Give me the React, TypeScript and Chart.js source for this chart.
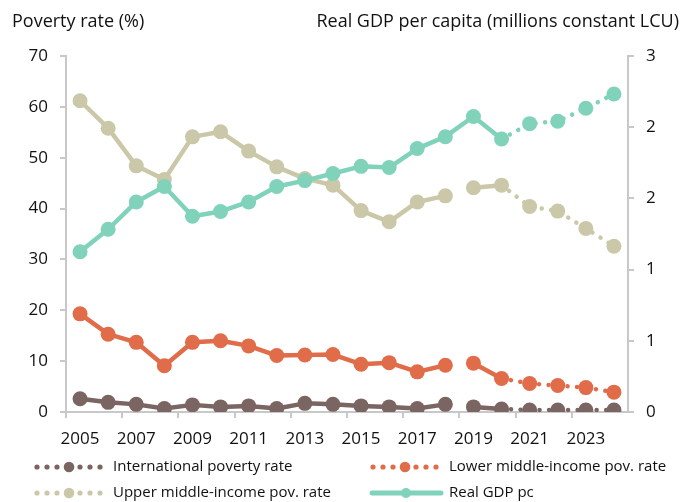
import React, { useEffect, useRef } from "react";
import { Chart, registerables } from "chart.js";

Chart.register(...registerables);

const years = ["2005","2006","2007","2008","2009","2010","2011","2012","2013","2014","2015","2016","2017","2018","2019","2020","2021","2022","2023","2024"];
const intlPoverty = [2.6,1.9,1.5,0.7,1.4,1.0,1.2,0.7,1.7,1.5,1.2,1.0,0.7,1.5,1.0,0.6,0.4,0.4,0.4,0.4];
const lowerMiddlePoverty = [19.3,15.3,13.7,9.1,13.7,14.0,13.0,11.1,11.2,11.3,9.4,9.7,7.9,9.2,9.6,6.6,5.6,5.2,4.8,3.9];
const upperMiddlePoverty = [61.2,55.8,48.4,45.7,54.1,55.1,51.3,48.2,45.9,44.6,39.6,37.4,41.3,42.5,44.1,44.6,40.4,39.5,36.1,32.6];
const realGdpPc = [1.35,1.54,1.77,1.90,1.65,1.69,1.77,1.90,1.95,2.01,2.07,2.06,2.22,2.32,2.49,2.30,2.43,2.45,2.56,2.68];

const seriesNames = ["International poverty rate","Lower middle-income pov. rate","Upper middle-income pov. rate","Real GDP pc"];
const leftTitle = "Poverty rate (%)";
const rightTitle = "Real GDP per capita (millions constant LCU)";

const GAP_AFTER = 13;   // no line between 2018 and 2019 for poverty series
const DOTTED_FROM = 15; // dotted from 2020 onward

const C_INTL = "#7b6562";
const C_LOWER = "#e06c49";
const C_UPPER = "#cbc8a9";
const C_GDP = "#80d2bb";
const AXIS = "#c8c8c8";
const FONT = "'Open Sans', sans-serif";
const TXT = "#111";

const titlesPlugin = {
  id: "titles",
  afterDraw(chart: any) {
    const ctx = chart.ctx;
    ctx.save();
    ctx.fillStyle = TXT;
    ctx.font = `18px ${FONT}`;
    ctx.textBaseline = "middle";
    ctx.textAlign = "left";
    ctx.fillText(leftTitle, 12, 22);
    ctx.textAlign = "right";
    ctx.fillText(rightTitle, 679, 22);
    ctx.restore();
  },
};

const legendPlugin = {
  id: "customLegend",
  afterDraw(chart: any) {
    const ctx = chart.ctx;
    ctx.save();
    const items = [
      { label: seriesNames[0], color: C_INTL, cx: 69, y: 467, tx: 113, dotted: true },
      { label: seriesNames[1], color: C_LOWER, cx: 405, y: 467, tx: 449, dotted: true },
      { label: seriesNames[2], color: C_UPPER, cx: 69, y: 493, tx: 113, dotted: true },
      { label: seriesNames[3], color: C_GDP, cx: 406, y: 493, tx: 449, dotted: false },
    ];
    for (const it of items) {
      ctx.fillStyle = it.color;
      ctx.strokeStyle = it.color;
      if (it.dotted) {
        for (const off of [-32, -22, -12, 11, 21, 31]) {
          ctx.beginPath();
          ctx.arc(it.cx + off, it.y, 2.6, 0, Math.PI * 2);
          ctx.fill();
        }
        ctx.beginPath();
        ctx.arc(it.cx, it.y, 5.3, 0, Math.PI * 2);
        ctx.fill();
      } else {
        ctx.lineWidth = 5;
        ctx.lineCap = "round";
        ctx.beginPath();
        ctx.moveTo(it.cx - 34, it.y);
        ctx.lineTo(it.cx + 35, it.y);
        ctx.stroke();
        ctx.beginPath();
        ctx.arc(it.cx, it.y, 5, 0, Math.PI * 2);
        ctx.fill();
      }
      ctx.fillStyle = TXT;
      ctx.font = `15px ${FONT}`;
      ctx.textAlign = "left";
      ctx.textBaseline = "middle";
      ctx.fillText(it.label, it.tx, it.y);
    }
    ctx.restore();
  },
};

function povertyDataset(label: string, data: number[], color: string, order: number) {
  return {
    label,
    data,
    yAxisID: "y",
    borderColor: color,
    backgroundColor: color,
    pointBackgroundColor: color,
    pointBorderWidth: 0,
    pointRadius: 7.5,
    pointHoverRadius: 7.5,
    borderWidth: 4.5,
    borderCapStyle: "round",
    borderJoinStyle: "round",
    tension: 0,
    order,
    segment: {
      borderColor: (c: any) => (c.p0DataIndex === GAP_AFTER ? "rgba(0,0,0,0)" : color),
      borderDash: (c: any) => (c.p0DataIndex >= DOTTED_FROM ? [0.01, 9.5] : undefined),
    },
  };
}

export default function App() {
  const ref = useRef<HTMLCanvasElement>(null);
  useEffect(() => {
    document.body.style.margin = "0";
    if (!ref.current) return;
    const chart = new Chart(ref.current, {
      type: "line",
      data: {
        labels: years,
        datasets: [
          povertyDataset(seriesNames[0], intlPoverty, C_INTL, 3),
          povertyDataset(seriesNames[1], lowerMiddlePoverty, C_LOWER, 2),
          povertyDataset(seriesNames[2], upperMiddlePoverty, C_UPPER, 4),
          {
            label: seriesNames[3],
            data: realGdpPc,
            yAxisID: "y1",
            borderColor: C_GDP,
            backgroundColor: C_GDP,
            pointBackgroundColor: C_GDP,
            pointBorderWidth: 0,
            pointRadius: 7.5,
            pointHoverRadius: 7.5,
            borderWidth: 4.5,
            borderCapStyle: "round",
            borderJoinStyle: "round",
            tension: 0,
            order: 1,
            segment: {
              borderDash: (c: any) => (c.p0DataIndex >= DOTTED_FROM ? [0.01, 9.5] : undefined),
            },
          } as any,
        ] as any,
      },
      options: {
        animation: false,
        responsive: true,
        maintainAspectRatio: false,
        layout: { padding: { top: 56, bottom: 50, left: 0, right: 0 } },
        plugins: { legend: { display: false }, tooltip: { enabled: false }, title: { display: false } },
        scales: {
          x: {
            offset: true,
            grid: {
              offset: true,
              drawOnChartArea: false,
              drawTicks: true,
              tickLength: 6,
              lineWidth: 2,
              color: (c: any) => (c.index !== undefined && c.index % 2 === 0 ? AXIS : "rgba(0,0,0,0)"),
            },
            border: { color: AXIS, width: 2 },
            ticks: {
              autoSkip: false,
              maxRotation: 0,
              padding: 11,
              color: TXT,
              font: { family: FONT, size: 17 },
              callback: (_v: any, i: number) => (i % 2 === 0 ? years[i] : ""),
            },
            afterFit: (s: any) => { s.height = 40; },
          },
          y: {
            position: "left",
            min: 0,
            max: 70,
            ticks: { stepSize: 10, padding: 12, color: TXT, font: { family: FONT, size: 17 } },
            grid: { drawOnChartArea: false, tickLength: 6, lineWidth: 2, color: AXIS },
            border: { color: AXIS, width: 2 },
            afterFit: (s: any) => { s.width = 66; },
          },
          y1: {
            position: "right",
            min: 0,
            max: 3,
            ticks: {
              stepSize: 0.6,
              padding: 12,
              color: TXT,
              font: { family: FONT, size: 17 },
              callback: (v: any) => String(Math.round(Number(v))),
            },
            grid: { drawOnChartArea: false, tickLength: 6, lineWidth: 2, color: AXIS },
            border: { color: AXIS, width: 2 },
            afterFit: (s: any) => { s.width = 58; },
          },
        },
      } as any,
      plugins: [titlesPlugin, legendPlugin],
    });
    return () => chart.destroy();
  }, []);
  return (
    <div style={{ position: "relative", width: 686, height: 502 }}>
      <canvas ref={ref} />
    </div>
  );
}
